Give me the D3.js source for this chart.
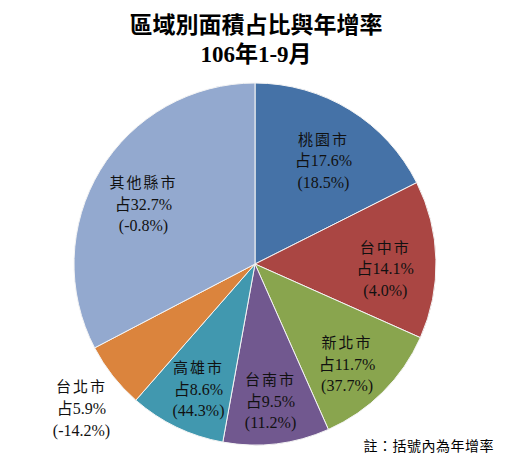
<!DOCTYPE html>
<html>
<head>
<meta charset="utf-8">
<script src="https://cdn.jsdelivr.net/npm/d3@7"></script>
<style>
body { margin: 0; background: #fff; }
svg text { font-family: "Liberation Serif", "Noto Sans CJK TC", serif; }
</style>
</head>
<body>
<div id="chart"></div>
<script>
const regions = ["桃園市", "台中市", "新北市", "台南市", "高雄市", "台北市", "其他縣市"];
const shares = [17.6, 14.1, 11.7, 9.5, 8.6, 5.9, 32.7];
const growth = ["18.5%", "4.0%", "37.7%", "11.2%", "44.3%", "-14.2%", "-0.8%"];
const colors = ["#4572A7", "#AA4643", "#89A54E", "#71588F", "#4198AF", "#DB843D", "#93A9CF"];
const titleLines = ["區域別面積占比與年增率", "106年1-9月"];
const note = "註：括號內為年增率";

const w = 515, h = 470;
const cx = 255, cy = 264, r = 181;

const data = regions.map((k, i) => ({key: k, value: shares[i], growth: growth[i], color: colors[i]}));

const svg = d3.select("#chart").append("svg")
	.attr("width", w)
	.attr("height", h);

svg.selectAll(".title")
	.data(titleLines)
	.enter().append("text")
	.attr("class", "title")
	.attr("x", 256)
	.attr("y", (d, i) => 33 + i * 29)
	.attr("text-anchor", "middle")
	.style("font-size", "23px")
	.style("font-weight", "bold")
	.text(d => d);

const pie = d3.pie()
	.value(d => d.value)
	.sort(null);

const arc = d3.arc().innerRadius(0).outerRadius(r);
const labelArc = d3.arc().innerRadius(r * 0.72).outerRadius(r * 0.72);
const outerArc = d3.arc().innerRadius(r * 1.22).outerRadius(r * 1.22);

const plot = svg.append("g")
	.attr("transform", `translate(${cx},${cy})`);

const arcs = pie(data);

plot.selectAll("path")
	.data(arcs)
	.enter().append("path")
	.attr("d", arc)
	.style("fill", d => d.data.color)
	.style("stroke", "#f4f4f4")
	.style("stroke-width", "1px");

// small slice label sits outside the pie
const labels = plot.selectAll(".label")
	.data(arcs)
	.enter().append("text")
	.attr("class", "label")
	.attr("text-anchor", "middle")
	.attr("transform", d => {
		const xy = (d.data.value < 7 ? outerArc : labelArc).centroid(d);
		return `translate(${xy[0]},${xy[1] + 6})`;
	})
	.style("font-size", "16px")
	.style("fill", "#111");

labels.append("tspan")
	.attr("x", 0)
	.attr("dy", "-0.95em")
	.style("font-size", "15px")
	.style("letter-spacing", "2px")
	.text(d => d.data.key);
labels.append("tspan")
	.attr("x", 0)
	.attr("dy", "1.35em")
	.text(d => "占" + d.data.value + "%");
labels.append("tspan")
	.attr("x", 0)
	.attr("dy", "1.35em")
	.text(d => "(" + d.data.growth + ")");

svg.append("text")
	.attr("x", 494)
	.attr("y", 451)
	.attr("text-anchor", "end")
	.style("font-size", "14px")
	.style("letter-spacing", "0.5px")
	.text(note);
</script>
</body>
</html>
